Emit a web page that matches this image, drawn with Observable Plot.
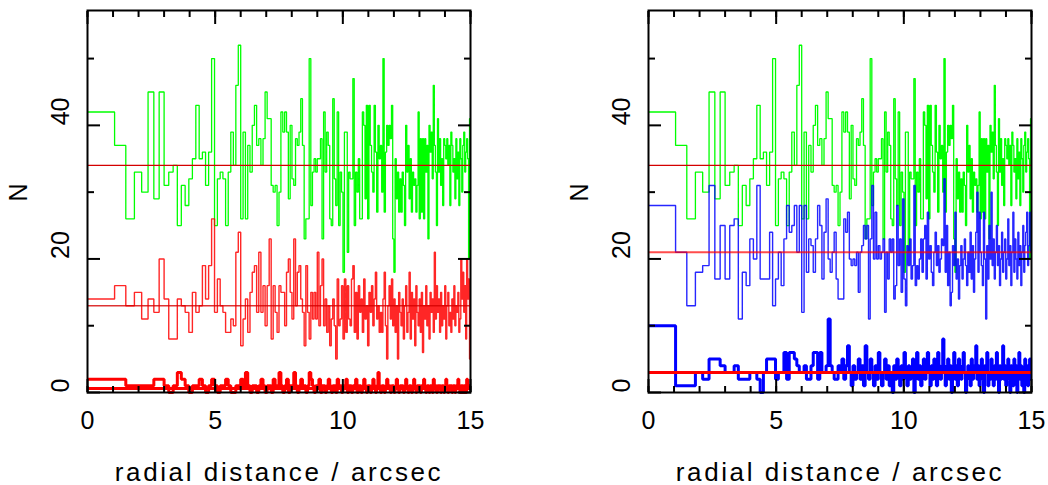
<!DOCTYPE html>
<html>
<head>
<meta charset="utf-8">
<script src="https://cdn.jsdelivr.net/npm/d3@7"></script>
<script src="https://cdn.jsdelivr.net/npm/@observablehq/plot@0.6"></script>
<style>
  html, body { margin: 0; padding: 0; background: white; }
  #row { display: flex; width: 1048px; height: 485px; }
</style>
</head>
<body>
<div id="row"></div>
<script>
// 200 equal-area radial bins from 0 to 15 arcsec
const nBins = 200;
const rMax = 15;
const binEdges = d3.range(nBins + 1).map(k => rMax * Math.sqrt(k / nBins));

// background counts (green, same in both panels)
const green = [
  42,37,26,33,30,45,29,45,31,33,
  34,25,31,28,32,35,43,35,36,31,
  36,50,25,32,33,32,25,33,39,34,
  46,52,26,39,26,37,33,40,43,37,
  38,34,38,45,41,41,31,30,31,25,
  30,42,39,42,39,29,40,32,31,38,
  37,39,44,37,23,26,26,50,28,33,
  35,33,35,35,38,23,42,33,39,37,
  26,25,44,32,28,42,25,33,30,18,
  39,39,21,33,32,32,47,25,33,30,
  35,26,26,42,40,29,43,26,43,37,
  33,30,43,36,27,40,35,37,30,50,
  27,36,40,37,40,38,43,23,18,35,
  29,33,27,32,27,33,31,25,40,33,
  37,29,35,27,33,31,32,27,31,42,
  26,38,27,38,26,38,33,37,23,40,
  36,39,32,46,37,33,25,41,33,38,
  31,35,28,38,37,35,38,34,37,28,
  39,37,33,35,29,38,32,36,28,38,
  35,30,37,39,33,36,38,35,20,41
];
// left panel: red thin and red bold
const redThin = [
  14,16,13,15,11,14,12,20,14,8,
  8,14,13,12,9,15,12,13,19,14,
  19,26,12,17,13,12,9,9,11,10,
  21,24,7,11,14,9,15,18,19,12,
  21,12,16,10,16,23,8,16,12,9,
  16,15,15,10,18,20,15,11,23,13,
  18,19,14,12,7,19,12,8,15,11,
  15,11,21,10,16,20,10,14,9,13,
  7,11,14,10,5,17,10,11,16,8,
  17,9,16,11,10,17,19,9,15,8,
  16,12,14,9,17,11,13,7,15,12,
  16,10,14,18,11,13,9,12,9,14,
  18,10,5,13,16,11,17,10,14,9,
  13,5,15,12,10,14,8,13,16,9,
  12,18,8,15,11,14,7,16,12,10,
  14,9,15,6,13,11,16,10,13,8,
  15,12,14,9,21,11,16,12,14,9,
  15,10,13,11,16,8,13,15,10,12,
  9,14,11,16,10,13,12,15,9,11,
  20,14,18,12,16,8,20,14,17,5
];
const redBold = [
  2,2,1,1,1,1,2,2,1,0,
  1,3,2,1,0,1,1,2,1,0,
  1,2,1,0,1,1,2,1,0,0,
  1,1,2,1,3,1,0,1,1,0,
  1,2,1,0,1,1,0,2,1,1,
  3,1,0,1,2,0,1,1,3,1,
  0,1,2,1,1,0,1,3,2,1,
  0,1,1,2,0,1,1,0,1,2,
  1,0,1,1,0,2,1,1,0,1,
  1,2,0,1,1,0,1,1,2,0,
  1,1,0,1,2,1,0,1,1,0,
  1,2,1,0,1,3,1,0,1,1,
  0,1,2,1,1,0,1,1,0,1,
  2,1,0,1,1,1,0,1,2,1,
  0,1,1,0,1,2,1,0,1,1,
  1,0,1,1,2,1,0,1,1,0,
  1,1,0,2,1,1,0,1,1,1,
  0,1,1,0,1,2,1,0,1,1,
  1,0,1,1,0,1,1,2,1,0,
  1,1,0,1,1,0,2,1,1,1
];
// right panel: blue thin and blue bold
const blueThin = [
  28,21,13,18,19,31,17,25,17,25,
  26,11,18,16,23,20,31,17,17,17,
  24,13,17,21,16,23,28,24,25,28,
  21,28,12,28,18,23,22,18,23,28,
  25,17,24,29,20,18,21,24,17,14,
  14,14,26,24,27,20,19,20,19,21,
  15,21,22,25,23,25,11,23,31,20,
  27,20,22,20,21,23,12,21,17,23,
  21,23,14,16,28,19,23,15,29,17,
  13,22,19,23,17,19,31,16,19,17,
  20,23,18,23,25,17,27,20,22,18,
  16,21,24,19,22,18,20,23,22,32,
  18,25,16,21,13,15,22,19,27,17,
  20,14,19,22,17,20,23,19,16,21,
  18,24,17,22,15,20,24,30,18,27,
  21,19,16,27,20,11,22,17,25,20,
  30,19,23,17,21,25,19,22,16,20,
  24,18,21,23,17,20,26,19,22,16,
  21,27,18,23,20,17,24,19,22,16,
  21,25,18,22,24,27,19,22,27,21
];
const blueBold = [
  10,1,1,3,2,5,5,4,3,3,
  4,2,2,2,3,3,2,0,3,5,
  5,5,2,3,3,6,2,6,6,5,
  4,3,3,4,2,2,4,6,6,2,
  6,3,3,4,11,4,3,2,2,4,
  3,5,2,4,7,3,1,4,2,3,
  5,2,4,1,7,3,2,5,3,1,
  4,2,6,3,1,3,5,2,4,1,
  3,0,4,2,5,3,1,4,2,6,
  3,1,4,2,3,5,0,3,6,2,
  4,1,3,5,2,4,6,3,1,4,
  2,5,3,1,6,4,2,3,8,4,
  1,3,5,2,4,0,3,6,2,4,
  1,5,3,2,4,6,3,0,2,4,
  3,1,5,2,4,3,7,2,4,1,
  3,5,2,0,4,3,6,1,3,2,
  5,3,1,4,2,6,3,0,4,2,
  3,7,2,4,1,3,5,2,0,4,
  3,1,5,2,4,0,3,6,2,4,
  1,3,0,5,2,4,1,3,5,2
];
// mean levels (horizontal red lines)
const leftLevels = {thin: 34, mid: 13, bold: 0.6};
const rightLevels = {thin: 34, mid: 21, bold: 3};

const xMinorTicks = d3.range(0, 16);
const xMajorTicks = [0, 5, 10, 15];
const yMinorTicks = [10, 30, 50];
const yMajorTicks = [0, 20, 40];
const xLabels = [0, 5, 10, 15];
const yLabels = [0, 20, 40];
const xTitle = "radial distance / arcsec";
const yTitle = "N";

function steps(values) {
  const pts = values.map((v, i) => ({x: binEdges[i], y: v}));
  pts.push({x: binEdges[values.length], y: values[values.length - 1]});
  return pts;
}

function frameAxes() {
  const blank = () => "";
  const common = {tickFormat: blank, label: null, strokeWidth: 2, stroke: "black"};
  return [
    Plot.axisX({...common, anchor: "bottom", ticks: xMinorTicks, tickSize: -6}),
    Plot.axisX({...common, anchor: "bottom", ticks: xMajorTicks, tickSize: -13}),
    Plot.axisX({...common, anchor: "top", ticks: xMinorTicks, tickSize: -6}),
    Plot.axisX({...common, anchor: "top", ticks: xMajorTicks, tickSize: -13}),
    Plot.axisY({...common, anchor: "left", ticks: yMinorTicks, tickSize: -7}),
    Plot.axisY({...common, anchor: "left", ticks: yMajorTicks, tickSize: -13}),
    Plot.axisY({...common, anchor: "right", ticks: yMinorTicks, tickSize: -7}),
    Plot.axisY({...common, anchor: "right", ticks: yMajorTicks, tickSize: -13}),
    Plot.frame({stroke: "black", strokeWidth: 2}),
    Plot.text(xLabels, {x: d => d, text: d => String(d), frameAnchor: "bottom", dy: 36, fontSize: 25, fill: "black"}),
    Plot.text(yLabels, {y: d => d, text: d => String(d), frameAnchor: "left", dx: -27, rotate: -90, fontSize: 25, fill: "black"}),
    Plot.text([yTitle], {frameAnchor: "left", dx: -69, rotate: -90, fontSize: 25, fill: "black"}),
    Plot.text([xTitle], {frameAnchor: "bottom", dy: 88, fontSize: 26, fill: "black"})
  ];
}

function panel(marginLeft, marginRight, dataMarks) {
  const svg = Plot.plot({
    width: 524,
    height: 485,
    marginTop: 10,
    marginBottom: 93,
    marginLeft,
    marginRight,
    x: {domain: [0, 15]},
    y: {domain: [0, 57.2]},
    style: {fontFamily: "'Liberation Sans', sans-serif", fontSize: "25px", background: "white", overflow: "visible"},
    marks: [...dataMarks, ...frameAxes()]
  });
  d3.select(svg).selectAll("text")
    .filter(function () { return this.textContent === xTitle; })
    .style("letter-spacing", "2.6px");
  return svg;
}

const lineOpts = {x: "x", y: "y", curve: "step-after", strokeLinejoin: "miter", strokeLinecap: "butt"};

const left = panel(87, 54, [
  Plot.line(steps(green), {...lineOpts, stroke: "#00ff00", strokeWidth: 1.3}),
  Plot.line(steps(redThin), {...lineOpts, stroke: "#ff0000", strokeWidth: 1.4, strokeOpacity: 0.85}),
  Plot.ruleY([leftLevels.thin], {stroke: "#d40000", strokeWidth: 1.2}),
  Plot.ruleY([leftLevels.mid], {stroke: "#d40000", strokeWidth: 1.4, strokeOpacity: 0.8}),
  Plot.ruleY([leftLevels.bold], {stroke: "#ff0000", strokeWidth: 3}),
  Plot.line(steps(redBold), {...lineOpts, stroke: "#ff0000", strokeWidth: 3})
]);

const right = panel(124, 17, [
  Plot.line(steps(green), {...lineOpts, stroke: "#00ff00", strokeWidth: 1.3}),
  Plot.line(steps(blueThin), {...lineOpts, stroke: "#0000ff", strokeWidth: 1.4, strokeOpacity: 0.85}),
  Plot.ruleY([rightLevels.thin], {stroke: "#d40000", strokeWidth: 1.2}),
  Plot.ruleY([rightLevels.mid], {stroke: "#ff0000", strokeWidth: 1.8, strokeOpacity: 0.7}),
  Plot.line(steps(blueBold), {...lineOpts, stroke: "#0000ff", strokeWidth: 3}),
  Plot.ruleY([rightLevels.bold], {stroke: "#ff0000", strokeWidth: 3})
]);

document.getElementById("row").append(left, right);
</script>
</body>
</html>
